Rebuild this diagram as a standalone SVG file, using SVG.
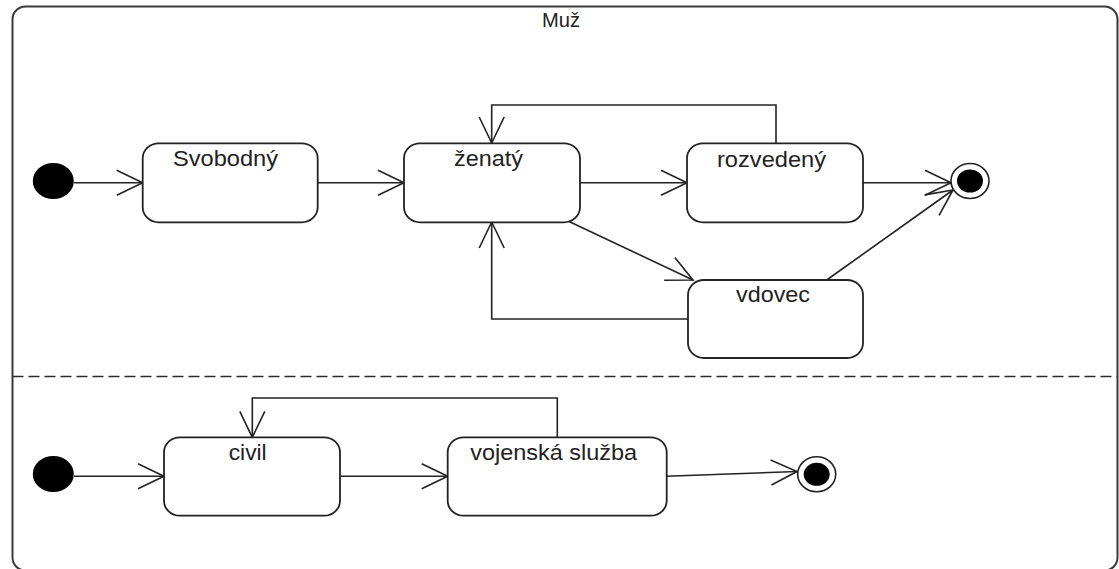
<svg xmlns="http://www.w3.org/2000/svg" width="1119" height="569" viewBox="0 0 1119 569">
  <style>
    .frame { fill: #ffffff; stroke: #3a3a3a; stroke-width: 2; }
    .sep { stroke: #2a2a2a; stroke-width: 1.6; stroke-dasharray: 11 5; fill: none; }
    .state { fill: #ffffff; stroke: #222222; stroke-width: 1.8; }
    .lbl { font-family: "Liberation Sans", Arial, sans-serif; font-size: 22px; fill: #222222; text-anchor: middle; }
    .title { font-family: "Liberation Sans", Arial, sans-serif; font-size: 20px; fill: #222222; text-anchor: middle; }
    .init { fill: #000000; }
    .fin-ring { fill: #ffffff; stroke: #222222; stroke-width: 1.6; }
    .fin-dot { fill: #000000; }
    .edge { fill: none; stroke: #222222; stroke-width: 1.6; marker-end: url(#arr); }
  </style>
  <defs>
    <marker id="arr" markerUnits="userSpaceOnUse" viewBox="-30 -16 34 32" refX="0" refY="0" markerWidth="34" markerHeight="32" orient="auto" overflow="visible">
      <path d="M-26,-12.5 L0,0 L-26,12.5" fill="none" stroke="#222222" stroke-width="1.6"/>
    </marker>
  </defs>

  <rect width="1119" height="569" fill="#ffffff"/>

  <g id="container">
    <rect class="frame" x="12.5" y="6.5" width="1105" height="564" rx="13" ry="13"/>
    <text class="title" x="561" y="27" textLength="38" lengthAdjust="spacingAndGlyphs">Muž</text>
    <line class="sep" x1="12.5" y1="376.5" x2="1117.5" y2="376.5"/>
  </g>

  <g id="connectors">
    <path class="edge" d="M74,182.7 L142.7,182.7"/>
    <path class="edge" d="M318,182.7 L404,182.7"/>
    <path class="edge" d="M580,182.7 L687,182.7"/>
    <path class="edge" d="M776,143 V105 H491.7 V143"/>
    <path class="edge" d="M568,221 L693,280"/>
    <path class="edge" d="M688,319 H491.7 V222"/>
    <path class="edge" d="M863,182.7 L951,182.7"/>
    <path class="edge" d="M826.7,280 L953,190"/>
    <path class="edge" d="M74,476.3 L164,476.3"/>
    <path class="edge" d="M340,476.3 L447.7,476.3"/>
    <path class="edge" d="M557.3,437.3 V398 H252.3 V437.3"/>
    <path class="edge" d="M666,476.3 L797,471.5"/>
  </g>

  <g id="init1">
    <ellipse class="init" cx="53.3" cy="181" rx="20.5" ry="18"/>
  </g>
  <g id="svobodny">
    <rect class="state" x="142.7" y="143.3" width="175" height="79" rx="16" ry="15"/>
    <text class="lbl" x="225.5" y="166" textLength="105" lengthAdjust="spacingAndGlyphs">Svobodný</text>
  </g>
  <g id="zenaty">
    <rect class="state" x="404" y="143.3" width="176" height="79" rx="16" ry="15"/>
    <text class="lbl" x="488.5" y="166" textLength="69" lengthAdjust="spacingAndGlyphs">ženatý</text>
  </g>
  <g id="rozvedeny">
    <rect class="state" x="687" y="143.3" width="176" height="79" rx="16" ry="15"/>
    <text class="lbl" x="771.5" y="166.5" textLength="109" lengthAdjust="spacingAndGlyphs">rozvedený</text>
  </g>
  <g id="vdovec">
    <rect class="state" x="688" y="280" width="175" height="78" rx="16" ry="15"/>
    <text class="lbl" x="773" y="302" textLength="74" lengthAdjust="spacingAndGlyphs">vdovec</text>
  </g>
  <g id="final1">
    <ellipse class="fin-ring" cx="970" cy="181" rx="19" ry="17.5"/>
    <ellipse class="fin-dot" cx="970" cy="181" rx="13" ry="11.5"/>
  </g>

  <g id="init2">
    <ellipse class="init" cx="53.3" cy="474" rx="20.5" ry="18"/>
  </g>
  <g id="civil">
    <rect class="state" x="164" y="437.3" width="176" height="78.4" rx="16" ry="15"/>
    <text class="lbl" x="247.7" y="460" textLength="38" lengthAdjust="spacingAndGlyphs">civil</text>
  </g>
  <g id="vojenska">
    <rect class="state" x="447.7" y="437.3" width="219" height="78.4" rx="16" ry="15"/>
    <text class="lbl" x="553.7" y="460" textLength="167" lengthAdjust="spacingAndGlyphs">vojenská služba</text>
  </g>
  <g id="final2">
    <ellipse class="fin-ring" cx="816.7" cy="474.3" rx="19" ry="17.5"/>
    <ellipse class="fin-dot" cx="816.7" cy="474.3" rx="13" ry="11.5"/>
  </g>
</svg>
